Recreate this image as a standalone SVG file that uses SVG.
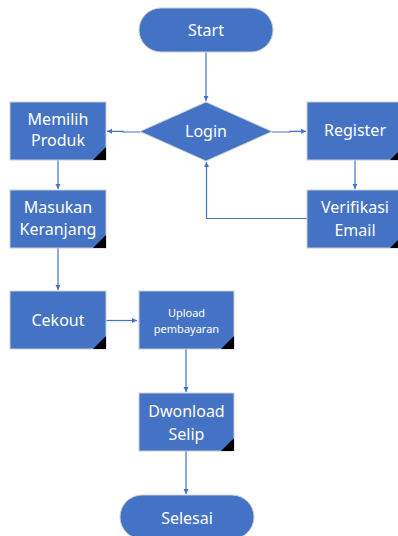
<svg xmlns="http://www.w3.org/2000/svg" width="398" height="536" viewBox="0 0 398 536">
<style>
.n{fill:#4472C4;stroke:#C9CED6;stroke-width:1}
.c{fill:none;stroke:#4472C4;stroke-width:1.2}
.t{fill:#fff;font-family:"Noto Sans","Liberation Sans",sans-serif;font-size:16px;text-anchor:middle}
.s{font-size:11px}
.k{fill:#000}
</style>
<defs>
<marker id="a" markerWidth="6" markerHeight="6" refX="5" refY="3" orient="auto" markerUnits="userSpaceOnUse">
<path d="M0,0.5 L5,3 L0,5.5 Z" fill="#4472C4"/>
</marker>
</defs>
<rect width="398" height="536" fill="#fff"/>
<g id="connectors">
<path class="c" d="M206,52 V101" marker-end="url(#a)"/>
<path class="c" d="M140,132 H123 V131.3 H107" marker-end="url(#a)"/>
<path class="c" d="M272,132 H290 V131.3 H306" marker-end="url(#a)"/>
<path class="c" d="M58,160 V189" marker-end="url(#a)"/>
<path class="c" d="M355,160 V189" marker-end="url(#a)"/>
<path class="c" d="M307,218.5 H206.5 V162" marker-end="url(#a)"/>
<path class="c" d="M58,248 V290" marker-end="url(#a)"/>
<path class="c" d="M106,320.5 H137" marker-end="url(#a)"/>
<path class="c" d="M186,349 V392" marker-end="url(#a)"/>
<path class="c" d="M186,451 V494" marker-end="url(#a)"/>
</g>
<g id="start">
<rect class="n" x="139" y="8" width="134" height="44" rx="22"/>
<text class="t" x="206" y="36">Start</text>
</g>
<g id="login">
<polygon class="n" points="206,102 272,131.5 206,161 140,131.5"/>
<text class="t" x="206" y="137">Login</text>
</g>
<g id="memilih">
<rect class="n" x="10" y="102" width="96" height="58"/>
<polygon class="k" points="106,147 106,160 93,160"/>
<text class="t" x="58" y="125">Memilih</text>
<text class="t" x="58" y="146">Produk</text>
</g>
<g id="register">
<rect class="n" x="307" y="102" width="96" height="58"/>
<polygon class="k" points="403,147 403,160 390,160"/>
<text class="t" x="355" y="136">Register</text>
</g>
<g id="masukan">
<rect class="n" x="10" y="190" width="96" height="58"/>
<polygon class="k" points="106,235 106,248 93,248"/>
<text class="t" x="58" y="213">Masukan</text>
<text class="t" x="58" y="235">Keranjang</text>
</g>
<g id="verifikasi">
<rect class="n" x="307" y="190" width="96" height="58"/>
<polygon class="k" points="403,235 403,248 390,248"/>
<text class="t" x="355" y="213">Verifikasi</text>
<text class="t" x="355" y="236">Email</text>
</g>
<g id="cekout">
<rect class="n" x="10" y="291" width="96" height="58"/>
<polygon class="k" points="106,336 106,349 93,349"/>
<text class="t" x="58" y="326">Cekout</text>
</g>
<g id="upload">
<rect class="n" x="139" y="291" width="95" height="58"/>
<polygon class="k" points="234,336 234,349 221,349"/>
<text class="t s" x="186.5" y="316.5">Upload</text>
<text class="t s" x="186.5" y="332.5">pembayaran</text>
</g>
<g id="dwonload">
<rect class="n" x="139" y="393" width="95" height="58"/>
<polygon class="k" points="234,438 234,451 221,451"/>
<text class="t" x="186.5" y="417">Dwonload</text>
<text class="t" x="186.5" y="440">Selip</text>
</g>
<g id="selesai">
<rect class="n" x="120" y="495" width="134" height="44" rx="22"/>
<text class="t" x="187" y="524">Selesai</text>
</g>
</svg>
